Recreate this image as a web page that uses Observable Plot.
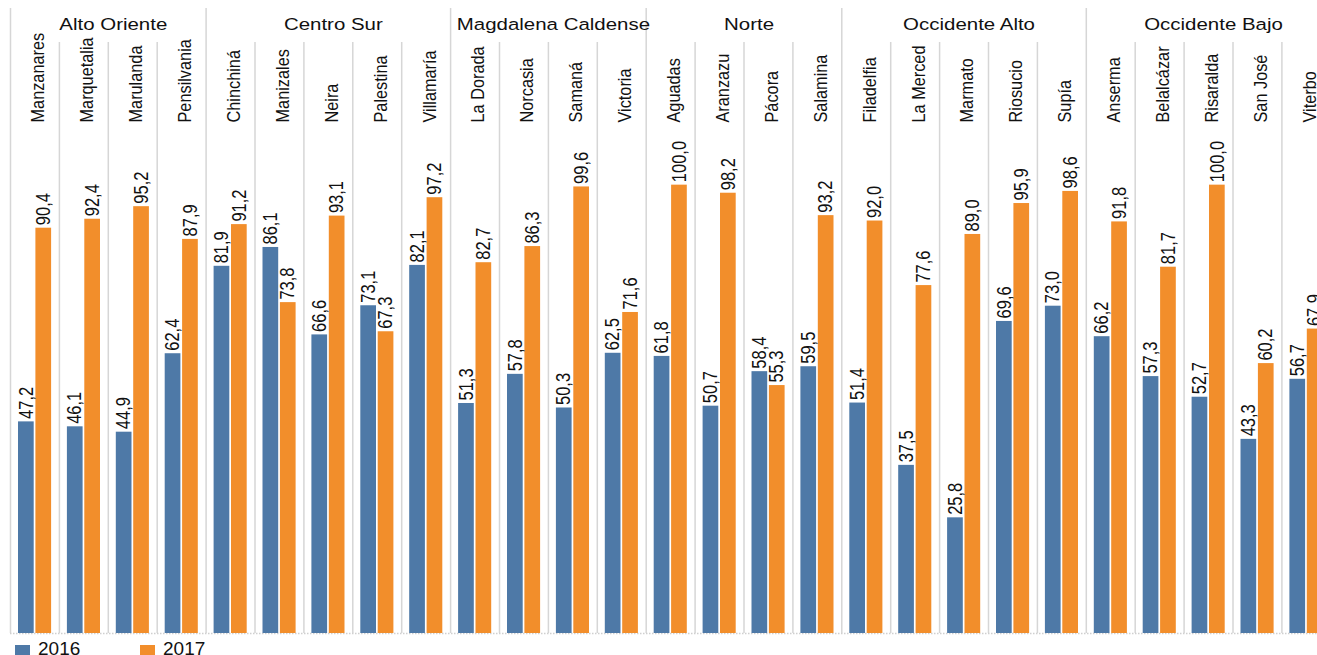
<!DOCTYPE html>
<html><head><meta charset="utf-8">
<script src="https://cdn.jsdelivr.net/npm/d3@7"></script>
<script src="https://cdn.jsdelivr.net/npm/@observablehq/plot@0.6"></script>
<style>
html,body{margin:0;padding:0;overflow:hidden;background:#fff;font-family:"Liberation Sans",Arial,sans-serif;}
#chart{width:1317px;height:640px;overflow:hidden;}
#chart svg{max-width:none !important;}
#legend{position:relative;height:15px;color:#111;}
.sw{position:absolute;top:5px;width:15px;height:11px;}
.lt{position:absolute;top:-2px;font-size:19px;line-height:22px;}
</style></head><body>
<div id="chart"></div>
<div id="legend"></div>
<script>
const groups = ["Alto Oriente","Centro Sur","Magdalena Caldense","Norte","Occidente Alto","Occidente Bajo"];
const groupSizes = [4,5,4,4,5,5];
const municipios = ["Manzanares","Marquetalia","Marulanda","Pensilvania",
  "Chinchiná","Manizales","Neira","Palestina","Villamaría",
  "La Dorada","Norcasia","Samaná","Victoria",
  "Aguadas","Aranzazu","Pácora","Salamina",
  "Filadelfia","La Merced","Marmato","Riosucio","Supía",
  "Anserma","Belalcázar","Risaralda","San José","Viterbo"];
const v2016 = [47.2,46.1,44.9,62.4, 81.9,86.1,66.6,73.1,82.1, 51.3,57.8,50.3,62.5, 61.8,50.7,58.4,59.5, 51.4,37.5,25.8,69.6,73.0, 66.2,57.3,52.7,43.3,56.7];
const v2017 = [90.4,92.4,95.2,87.9, 91.2,73.8,93.1,67.3,97.2, 82.7,86.3,99.6,71.6, 100.0,98.2,55.3,93.2, 92.0,77.6,89.0,95.9,98.6, 91.8,81.7,100.0,60.2,67.9];
const years = ["2016","2017"];
const colors = ["#4e79a7","#f28e2b"];

const rows = municipios.map((m,i)=>({m, i, a: v2016[i], b: v2017[i]}));
const groupStarts = [];
let acc = 0;
groupSizes.forEach(s=>{groupStarts.push(acc); acc += s;});
const groupRows = groups.map((g,k)=>({g, c: groupStarts[k] + groupSizes[k]/2}));
const innerStarts = rows.map(r=>r.i).filter(i=>!groupStarts.includes(i));
const fmt = v => v.toFixed(1).replace(".", ",");

const cellW = 48.9;
const chart = Plot.plot({
  width: 1340, height: 640,
  marginTop: 8, marginBottom: 7, marginLeft: 10, marginRight: 0,
  x: {type: "linear", domain: [0, municipios.length], range: [10, 10 + municipios.length*cellW], axis: null},
  y: {domain: [0, 139.4], range: [633, 8], axis: null},
  style: {fontFamily: "'Liberation Sans', Arial, sans-serif", background: "#fff", maxWidth: "none"},
  marks: [
    Plot.ruleX(innerStarts, {x: d=>d, stroke: "#d6d6d6", strokeWidth: 1.5, insetTop: 34}),
    Plot.ruleX(groupStarts, {x: d=>d, stroke: "#d6d6d6", strokeWidth: 1.5}),
    Plot.ruleY([0], {stroke: "#cfcfcf", strokeWidth: 1.5, strokeDasharray: "1.5,1.5"}),
    Plot.rectY(rows, {x1: d=>d.i, x2: d=>d.i+1, y1: 0, y2: "a", fill: colors[0], insetLeft: 8, insetRight: 25.2}),
    Plot.rectY(rows, {x1: d=>d.i, x2: d=>d.i+1, y1: 0, y2: "b", fill: colors[1], insetLeft: 25.4, insetRight: 7.8}),
    Plot.text(rows, {x: d=>d.i+0.5, y: "a", text: d=>fmt(d.a), rotate: -90, textAnchor: "start", lineAnchor: "middle", dx: -8.6, dy: -3, fontSize: 16.5, fill: "#111"}),
    Plot.text(rows, {x: d=>d.i+0.5, y: "b", text: d=>fmt(d.b), rotate: -90, textAnchor: "start", lineAnchor: "middle", dx: 8.8, dy: -3, fontSize: 16.5, fill: "#111"}),
    Plot.text(rows, {x: d=>d.i+0.5, frameAnchor: "top", text: "m", rotate: -90, textAnchor: "start", lineAnchor: "middle", dx: 3.5, dy: 114, fontSize: 16.3, fill: "#111"}),
    Plot.text(groupRows, {x: "c", frameAnchor: "top", text: "g", lineAnchor: "middle", dx: 5, dy: 16, fontSize: 16.5, fill: "#111"})
  ]
});
chart.style.maxWidth = "none";
const textGroups = Array.from(chart.querySelectorAll("g")).filter(g => g.querySelector(":scope > text"));
const stretches = ["scale(1,1.18)", "scale(1,1.18)", "scale(1,1.12)", "scale(1.24,1)"];
textGroups.forEach((g,k)=>{
  const s = stretches[k];
  if (!s) return;
  g.querySelectorAll(":scope > text").forEach(t=>{
    const tr = t.getAttribute("transform");
    if (tr) t.setAttribute("transform", tr + " " + s);
  });
});
document.getElementById("chart").appendChild(chart);

const legend = document.getElementById("legend");
const legendX = [15, 140];
years.forEach((y,k)=>{
  const sw = document.createElement("div");
  sw.className = "sw";
  sw.style.left = legendX[k] + "px";
  sw.style.background = colors[k];
  legend.appendChild(sw);
  const lt = document.createElement("div");
  lt.className = "lt";
  lt.style.left = (legendX[k] + 23) + "px";
  lt.textContent = y;
  legend.appendChild(lt);
});
</script>
</body></html>
